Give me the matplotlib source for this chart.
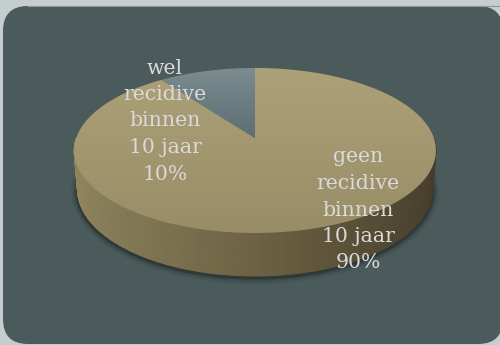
import numpy as np
import matplotlib
matplotlib.use("Agg")
import matplotlib.pyplot as plt
from matplotlib.patches import FancyBboxPatch, Polygon
from matplotlib.colors import to_rgb, LinearSegmentedColormap

# ---- data ----
labels = ["geen\nrecidive\nbinnen\n10 jaar\n90%", "wel\nrecidive\nbinnen\n10 jaar\n10%"]
values = [90, 10]
top_colors = [("#aca178", "#988d66"), ("#7c8c90", "#5c6f74")]
side_colors = ["#918660", "#6d6243", "#453d2b"]
label_pos = [(358, 210), (165, 121)]

W, H = 500, 345
fig = plt.figure(figsize=(W / 100, H / 100), dpi=100)
fig.patch.set_facecolor("#c5cdcf")
ax = fig.add_axes([0, 0, 1, 1])
ax.set_xlim(0, W)
ax.set_ylim(H, 0)
ax.axis("off")

panel = FancyBboxPatch((3, 6), 500, 338, boxstyle="round,pad=0,rounding_size=25",
                       facecolor="#4b5a5b", edgecolor="none")
ax.add_patch(panel)
ax.plot([28, 500], [6.3, 6.3], color="#8c9798", lw=0.8, zorder=1)

# ---- perspective projection of a 3D pie ----
elev = np.radians(26.8)
s, c = np.sin(elev), np.cos(elev)
D, F = 5.9, 1055.0
cx, cy = 255.0, 138.0
depth = 0.245


def proj(X, Y, Z):
    v = Y * s + Z * c
    w = Y * c - Z * s
    return cx + F * X / (D + w), cy - F * v / (D + w)


# drop shadow under side
t = np.linspace(np.pi, 2 * np.pi, 200)
bx, by = proj(np.cos(t), np.sin(t), -depth * np.ones_like(t))
for lw, a in [(9, 0.10), (6, 0.18), (3, 0.45)]:
    ax.plot(bx, by + 1.5, color="#1e2422", lw=lw, alpha=a, solid_capstyle="round", zorder=2)

# side walls (front half), shaded by angle
cl = [np.array(to_rgb(cc)) for cc in side_colors]
side_cmap = LinearSegmentedColormap.from_list("side", cl)
n = 240
ts = np.linspace(np.pi, 2 * np.pi, n + 1)
for i in range(n):
    t0, t1 = ts[i], ts[i + 1]
    x0, y0 = proj(np.cos(t0), np.sin(t0), 0)
    x1, y1 = proj(np.cos(t1), np.sin(t1), 0)
    x2, y2 = proj(np.cos(t1), np.sin(t1), -depth)
    x3, y3 = proj(np.cos(t0), np.sin(t0), -depth)
    frac = (np.cos((t0 + t1) / 2) + 1) / 2  # 0 at left, 1 at right
    col = side_cmap(frac)
    ax.add_patch(Polygon([[x0, y0], [x1, y1], [x2, y2], [x3, y3]], closed=True,
                         facecolor=col, edgecolor=col, lw=0.6, zorder=3))

# top faces
total = sum(values)
start = np.pi / 2
for val, (ctop, cbot) in zip(values, top_colors):
    sweep = 2 * np.pi * val / total
    tt = np.linspace(start, start - sweep, 300)
    px, py = proj(np.cos(tt), np.sin(tt), np.zeros_like(tt))
    ox, oy = proj(0, 0, 0)
    verts = np.column_stack([np.r_[ox, px], np.r_[oy, py]])
    poly = Polygon(verts, closed=True, facecolor="none", edgecolor="none", zorder=4)
    ax.add_patch(poly)
    cmap = LinearSegmentedColormap.from_list("g", [ctop, cbot])
    grad = np.linspace(0, 1, 256).reshape(-1, 1)
    ymin, ymax = verts[:, 1].min(), verts[:, 1].max()
    xmin, xmax = verts[:, 0].min(), verts[:, 0].max()
    im = ax.imshow(grad, cmap=cmap, aspect="auto", extent=[xmin, xmax, ymax, ymin],
                   zorder=4, interpolation="bilinear")
    im.set_clip_path(poly)
    start -= sweep

ax.set_xlim(0, W)
ax.set_ylim(H, 0)

# labels
for lab, (lx, ly) in zip(labels, label_pos):
    ax.text(lx, ly, lab, ha="center", va="center", color="#dadada",
            fontsize=14.7, family="DejaVu Serif", linespacing=1.5, zorder=6)

fig.savefig("out.png", dpi=100, facecolor=fig.get_facecolor())
